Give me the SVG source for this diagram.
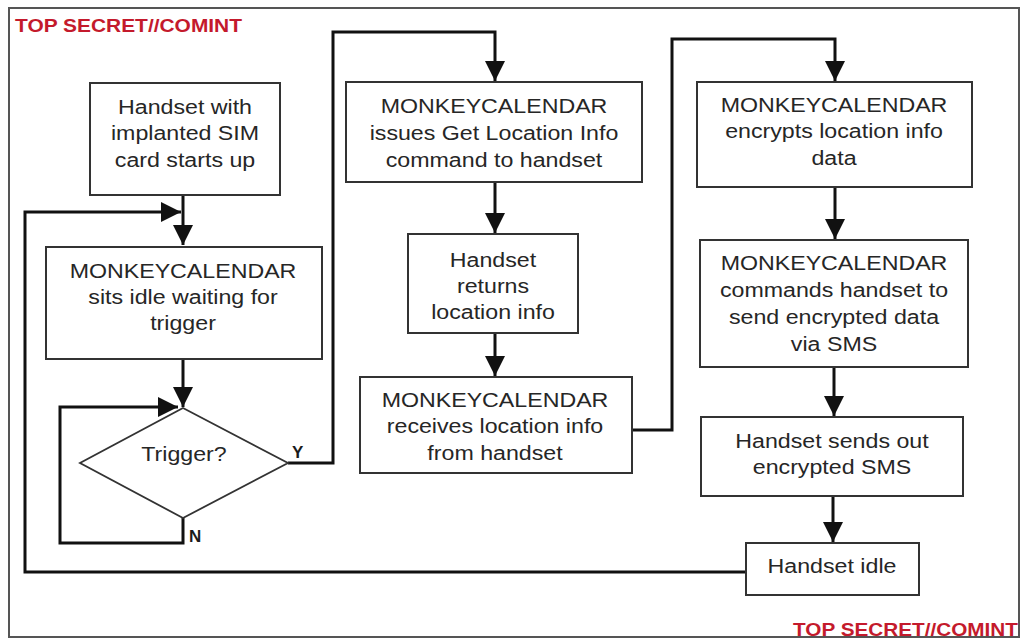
<svg xmlns="http://www.w3.org/2000/svg" width="1022" height="639" viewBox="0 0 1022 639">
<style>
.box{fill:#fff;stroke:#333;stroke-width:2}
.t{font-family:"Liberation Sans",Arial,sans-serif;font-size:20px;fill:#262626;text-anchor:middle}
.lbl{font-family:"Liberation Sans",Arial,sans-serif;font-size:17px;font-weight:bold;fill:#1a1a1a}
.cls{font-family:"Liberation Sans",Arial,sans-serif;font-size:19px;font-weight:bold;fill:#c41a2c}
.c{fill:none;stroke:#111;stroke-width:3}
</style>
<defs>
<marker id="arr" viewBox="0 0 20 20" refX="20" refY="10" markerWidth="20" markerHeight="20" markerUnits="userSpaceOnUse" orient="auto">
<path d="M0,0 L20,10 L0,20 Z" fill="#111"/>
</marker>
</defs>
<rect x="0" y="0" width="1022" height="639" fill="#fff"/>
<rect x="9" y="8" width="1010" height="629" fill="none" stroke="#555" stroke-width="2"/>
<text class="cls" x="15" y="32" textLength="227" lengthAdjust="spacingAndGlyphs">TOP SECRET//COMINT</text>
<text class="cls" x="793" y="636" textLength="225" lengthAdjust="spacingAndGlyphs">TOP SECRET//COMINT</text>

<g id="connectors">
<path class="c" d="M183,195 V245" marker-end="url(#arr)"/>
<path class="c" d="M746,572 H25 V212 H181" marker-end="url(#arr)"/>
<path class="c" d="M183,359 V407" marker-end="url(#arr)"/>
<path class="c" d="M183,518 V543 H60 V407 H178" marker-end="url(#arr)"/>
<path class="c" d="M288,463 H333 V32 H495 V81" marker-end="url(#arr)"/>
<path class="c" d="M495,182 V233" marker-end="url(#arr)"/>
<path class="c" d="M495,333 V376" marker-end="url(#arr)"/>
<path class="c" d="M632,430 H672 V39 H835 V81" marker-end="url(#arr)"/>
<path class="c" d="M835,187 V239" marker-end="url(#arr)"/>
<path class="c" d="M834,367 V416" marker-end="url(#arr)"/>
<path class="c" d="M833,496 V542" marker-end="url(#arr)"/>
<text class="lbl" x="292" y="458">Y</text>
<text class="lbl" x="189" y="542">N</text>
</g>

<g id="n1">
<rect class="box" x="90" y="83" width="190" height="112"/>
<g transform="translate(185 0) scale(1.16 1)">
<text class="t" x="0" y="114">Handset with</text>
<text class="t" x="0" y="140">implanted SIM</text>
<text class="t" x="0" y="167">card starts up</text>
</g>
</g>

<g id="n2">
<rect class="box" x="46" y="247" width="276" height="112"/>
<g transform="translate(183 0) scale(1.16 1)">
<text class="t" x="0" y="278">MONKEYCALENDAR</text>
<text class="t" x="0" y="304">sits idle waiting for</text>
<text class="t" x="0" y="330">trigger</text>
</g>
</g>

<g id="n3">
<polygon points="183,408 288,463 183,518 80,463" fill="#fff" stroke="#333" stroke-width="1.8"/>
<g transform="translate(184 0) scale(1.16 1)">
<text class="t" x="0" y="461">Trigger?</text>
</g>
</g>

<g id="n4">
<rect class="box" x="346" y="82" width="296" height="100"/>
<g transform="translate(494 0) scale(1.16 1)">
<text class="t" x="0" y="113">MONKEYCALENDAR</text>
<text class="t" x="0" y="140">issues Get Location Info</text>
<text class="t" x="0" y="167">command to handset</text>
</g>
</g>

<g id="n5">
<rect class="box" x="408" y="234" width="170" height="99"/>
<g transform="translate(493 0) scale(1.16 1)">
<text class="t" x="0" y="267">Handset</text>
<text class="t" x="0" y="293">returns</text>
<text class="t" x="0" y="319">location info</text>
</g>
</g>

<g id="n6">
<rect class="box" x="360" y="377" width="272" height="96"/>
<g transform="translate(495 0) scale(1.16 1)">
<text class="t" x="0" y="407">MONKEYCALENDAR</text>
<text class="t" x="0" y="433">receives location info</text>
<text class="t" x="0" y="460">from handset</text>
</g>
</g>

<g id="n7">
<rect class="box" x="697" y="82" width="275" height="105"/>
<g transform="translate(834 0) scale(1.16 1)">
<text class="t" x="0" y="112">MONKEYCALENDAR</text>
<text class="t" x="0" y="138">encrypts location info</text>
<text class="t" x="0" y="165">data</text>
</g>
</g>

<g id="n8">
<rect class="box" x="700" y="240" width="268" height="127"/>
<g transform="translate(834 0) scale(1.16 1)">
<text class="t" x="0" y="270">MONKEYCALENDAR</text>
<text class="t" x="0" y="297">commands handset to</text>
<text class="t" x="0" y="324">send encrypted data</text>
<text class="t" x="0" y="351">via SMS</text>
</g>
</g>

<g id="n9">
<rect class="box" x="701" y="417" width="262" height="79"/>
<g transform="translate(832 0) scale(1.16 1)">
<text class="t" x="0" y="448">Handset sends out</text>
<text class="t" x="0" y="474">encrypted SMS</text>
</g>
</g>

<g id="n10">
<rect class="box" x="746" y="543" width="173" height="52"/>
<g transform="translate(832 0) scale(1.16 1)">
<text class="t" x="0" y="573">Handset idle</text>
</g>
</g>
</svg>
